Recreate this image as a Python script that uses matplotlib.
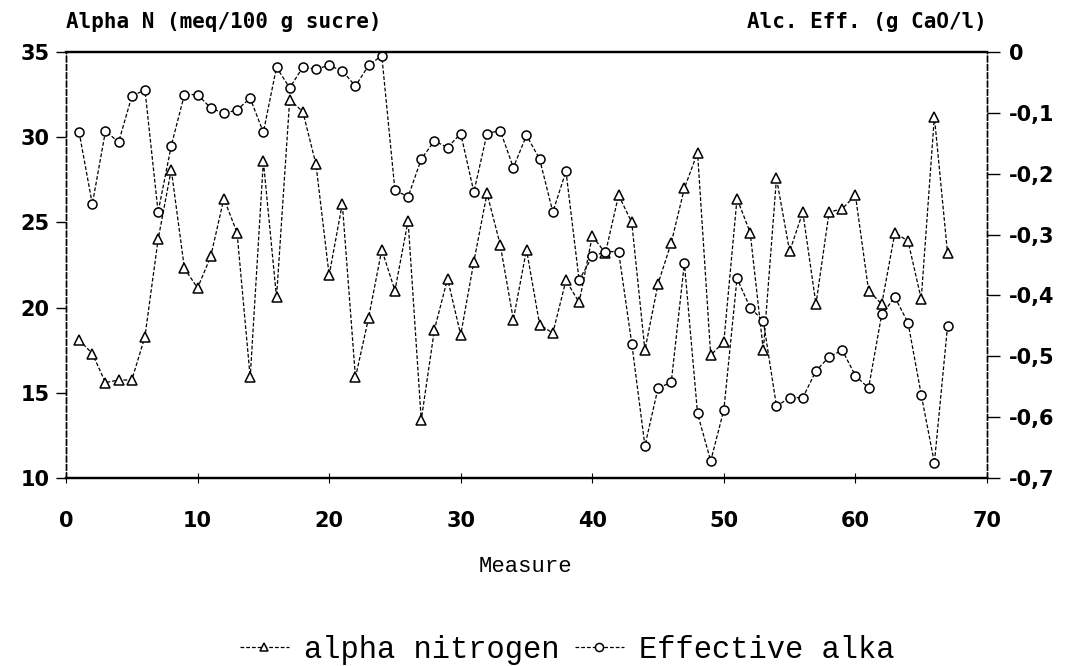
import matplotlib
matplotlib.use("Agg")
import matplotlib.pyplot as plt

# measures 1..67
measure = list(range(1, 68))

# alpha nitrogen (meq/100 g sucre), left axis
alpha_n = [18.1, 17.3, 15.6, 15.75, 15.75, 18.3, 24.0, 28.1, 22.3, 21.15,
           23.0, 26.4, 24.4, 15.9, 28.6, 20.6, 32.2, 31.5, 28.4, 21.9,
           26.1, 15.9, 19.4, 23.4, 21.0, 25.1, 13.4, 18.7, 21.7, 18.4,
           22.7, 26.7, 23.7, 19.3, 23.4, 19.0, 18.5, 21.6, 20.3, 24.2,
           23.2, 26.6, 25.0, 17.5, 21.4, 23.8, 27.0, 29.1, 17.2, 18.0,
           26.4, 24.4, 17.5, 27.6, 23.3, 25.6, 20.2, 25.6, 25.8, 26.6,
           21.0, 20.2, 24.4, 23.9, 20.5, 31.2, 23.2]

# effective alkalinity (g CaO/l), right axis
eff_alka = [-0.132, -0.250, -0.130, -0.148, -0.073, -0.062, -0.263, -0.154, -0.070, -0.070,
            -0.092, -0.101, -0.095, -0.076, -0.132, -0.025, -0.059, -0.025, -0.028, -0.022,
            -0.031, -0.056, -0.022, -0.006, -0.227, -0.238, -0.176, -0.146, -0.157, -0.134,
            -0.230, -0.134, -0.129, -0.190, -0.137, -0.176, -0.263, -0.196, -0.375, -0.336,
            -0.328, -0.328, -0.479, -0.647, -0.552, -0.543, -0.347, -0.594, -0.672, -0.588,
            -0.372, -0.420, -0.442, -0.582, -0.568, -0.568, -0.524, -0.501, -0.490, -0.532,
            -0.552, -0.431, -0.403, -0.445, -0.563, -0.675, -0.451]

x_ticks = [0, 10, 20, 30, 40, 50, 60, 70]
left_ticks = [10, 15, 20, 25, 30, 35]
right_ticks = [0, -0.1, -0.2, -0.3, -0.4, -0.5, -0.6, -0.7]
right_labels = ["0", "-0,1", "-0,2", "-0,3", "-0,4", "-0,5", "-0,6", "-0,7"]

W, H = 1077, 666
fig = plt.figure(figsize=(W / 100, H / 100), dpi=100)
fig.patch.set_facecolor("white")

x0, x1, y0, y1 = 66, 987, 52, 478
ax = fig.add_axes([x0 / W, 1 - y1 / H, (x1 - x0) / W, (y1 - y0) / H])
ax2 = ax.twinx()

tick_font = dict(family="DejaVu Sans", weight="bold", size=15)
mono = "Liberation Mono"
dash = (0, (3, 1.6))

l1, = ax.plot(measure, alpha_n, color="black", linewidth=0.9, linestyle=dash,
              marker="^", markersize=7, markerfacecolor="white",
              markeredgecolor="black", markeredgewidth=1.1)
l2, = ax2.plot(measure, eff_alka, color="black", linewidth=0.9, linestyle=dash,
               marker="o", markersize=6.5, markerfacecolor="white",
               markeredgecolor="black", markeredgewidth=1.1)

ax.set_xlim(0, 70)
ax.set_ylim(10, 35)
ax2.set_ylim(-0.7, 0)

ax.set_xticks(x_ticks)
ax.set_xticklabels([str(t) for t in x_ticks], fontdict=tick_font)
ax.set_yticks(left_ticks)
ax.set_yticklabels([str(t) for t in left_ticks], fontdict=tick_font)
ax2.set_yticks(right_ticks)
ax2.set_yticklabels(right_labels, fontdict=tick_font)

ax.tick_params(axis="x", direction="inout", length=7, width=0.8, pad=20)
ax.tick_params(axis="y", direction="out", length=7, width=1.0, pad=5)
ax2.tick_params(axis="y", direction="out", length=9, width=1.0, pad=7)

for a in (ax, ax2):
    a.spines["top"].set_linewidth(1.6)
    a.spines["bottom"].set_linewidth(1.6)
    a.spines["left"].set_linestyle((0, (4, 2)))
    a.spines["right"].set_linestyle((0, (4, 2)))
    a.spines["left"].set_linewidth(1.0)
    a.spines["right"].set_linewidth(1.0)

fig.text(x0 / W, 1 - 22 / H, "Alpha N (meq/100 g sucre)", ha="left", va="center",
         fontsize=15, fontweight="bold", family="DejaVu Sans Mono")
fig.text(x1 / W, 1 - 22 / H, "Alc. Eff. (g CaO/l)", ha="right", va="center",
         fontsize=15, fontweight="bold", family="DejaVu Sans Mono")

fig.text(525 / W, 1 - 567 / H, "Measure", ha="center", va="center",
         fontsize=16, family=mono)

fig.legend([l1, l2], ["alpha nitrogen", "Effective alka"], loc="center",
           bbox_to_anchor=(567 / W, 1 - 650 / H), ncol=2, frameon=False,
           prop=dict(family=mono, size=22), handlelength=1.6,
           columnspacing=0.5, handletextpad=0.5, markerscale=0.9)

fig.savefig("out.png", dpi=100, facecolor="white")
